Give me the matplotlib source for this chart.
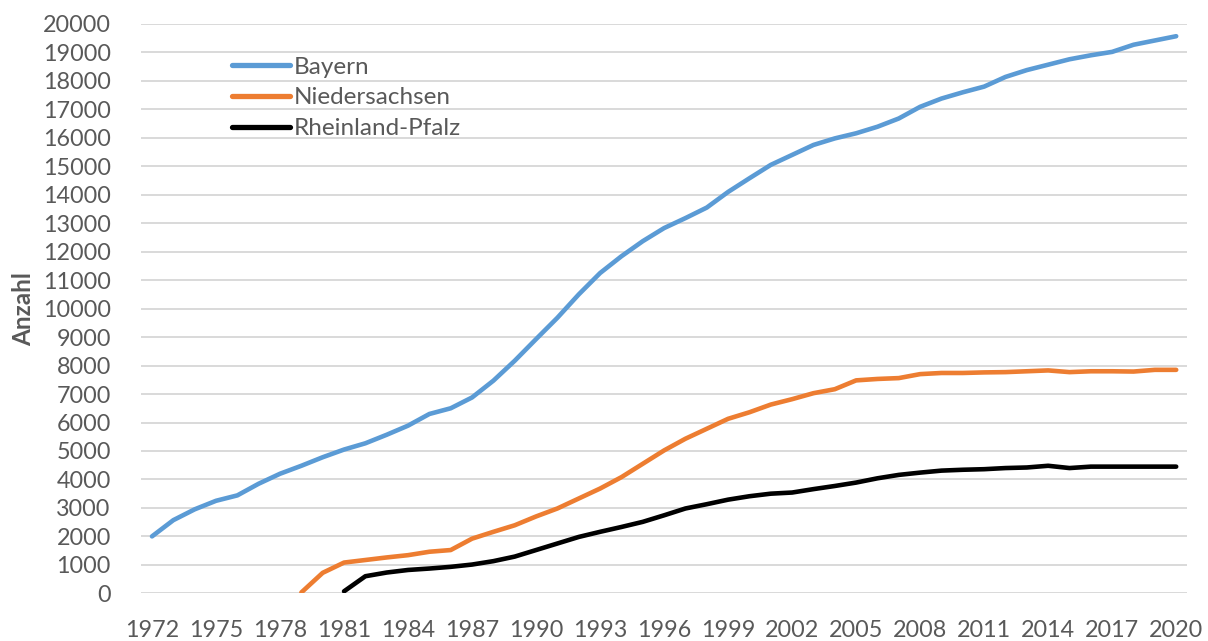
import numpy as np
import matplotlib
matplotlib.use("Agg")
import matplotlib.pyplot as plt

plt.rcParams['font.family'] = ['Lato', 'DejaVu Sans']

# Jahre der Kategorieachse
years = list(range(1972, 2021))
tick_years = list(range(1972, 2021, 3))

# Bayern, 1972-2020
bayern = [2000, 2570, 2950, 3250, 3440, 3850, 4200, 4480, 4780, 5050,
          5270, 5570, 5890, 6300, 6500, 6880, 7470, 8170, 8930, 9680,
          10500, 11250, 11840, 12370, 12830, 13180, 13550, 14100, 14580, 15050,
          15400, 15750, 15980, 16160, 16390, 16680, 17090, 17380, 17600, 17800,
          18140, 18380, 18570, 18760, 18900, 19020, 19270, 19420, 19570]

# Niedersachsen, 1979-2020
nds_start = 1979
niedersachsen = [30, 720, 1080, 1170, 1260, 1340, 1460, 1520, 1920, 2160,
                 2390, 2700, 2980, 3330, 3680, 4080, 4550, 5020, 5430, 5780,
                 6130, 6360, 6630, 6820, 7030, 7170, 7480, 7530, 7560, 7700,
                 7740, 7740, 7760, 7770, 7800, 7830, 7770, 7800, 7800, 7790,
                 7850, 7850]

# Rheinland-Pfalz, 1981-2020
rlp_start = 1981
rheinland_pfalz = [70, 600, 730, 820, 870, 930, 1010, 1130, 1290, 1520,
                   1750, 1980, 2160, 2330, 2510, 2740, 2980, 3130, 3290, 3410,
                   3500, 3540, 3660, 3770, 3890, 4040, 4160, 4240, 4310, 4340,
                   4360, 4400, 4420, 4480, 4400, 4450, 4450, 4450, 4450, 4450]

series = [
    ("Bayern", years[0], bayern, "#5B9BD5"),
    ("Niedersachsen", nds_start, niedersachsen, "#ED7D31"),
    ("Rheinland-Pfalz", rlp_start, rheinland_pfalz, "#000000"),
]

text_gray = "#595959"
grid_gray = "#D9D9D9"

fig = plt.figure(figsize=(12.08, 6.41), dpi=100)
ax = fig.add_axes([0.117, 0.0744, 0.8655, 0.8882])

for name, start, values, color in series:
    xs = np.arange(start, start + len(values))
    ax.plot(xs, values, color=color, lw=3.3, label=name,
            solid_capstyle="round", solid_joinstyle="round", zorder=3)

ax.set_xlim(1971.5, 2020.5)
ax.set_ylim(0, 20000)
ax.set_yticks(np.arange(0, 20001, 1000))
ax.set_xticks(tick_years)
ax.set_xticklabels([str(y) for y in tick_years])

ax.grid(axis="y", color=grid_gray, lw=1.4, zorder=0)
ax.set_axisbelow(True)
for s in ax.spines.values():
    s.set_visible(False)

ax.tick_params(axis="both", length=0, labelsize=16.8, labelcolor=text_gray)
ax.tick_params(axis="y", pad=22)
ax.tick_params(axis="x", pad=19)

ax.set_ylabel("Anzahl", fontsize=17.5, fontweight="bold", color=text_gray)
ax.yaxis.set_label_coords(-0.102, 0.5)

leg = ax.legend(loc="upper left", bbox_to_anchor=(0.0868, 0.9425),
                frameon=False, fontsize=17.5, handlelength=2.4,
                handletextpad=0.12, labelspacing=0.4, borderpad=0,
                borderaxespad=0)
for t in leg.get_texts():
    t.set_color(text_gray)
for h in leg.get_lines():
    h.set_linewidth(3.8)

fig.savefig("out.png", dpi=100, facecolor="white")
